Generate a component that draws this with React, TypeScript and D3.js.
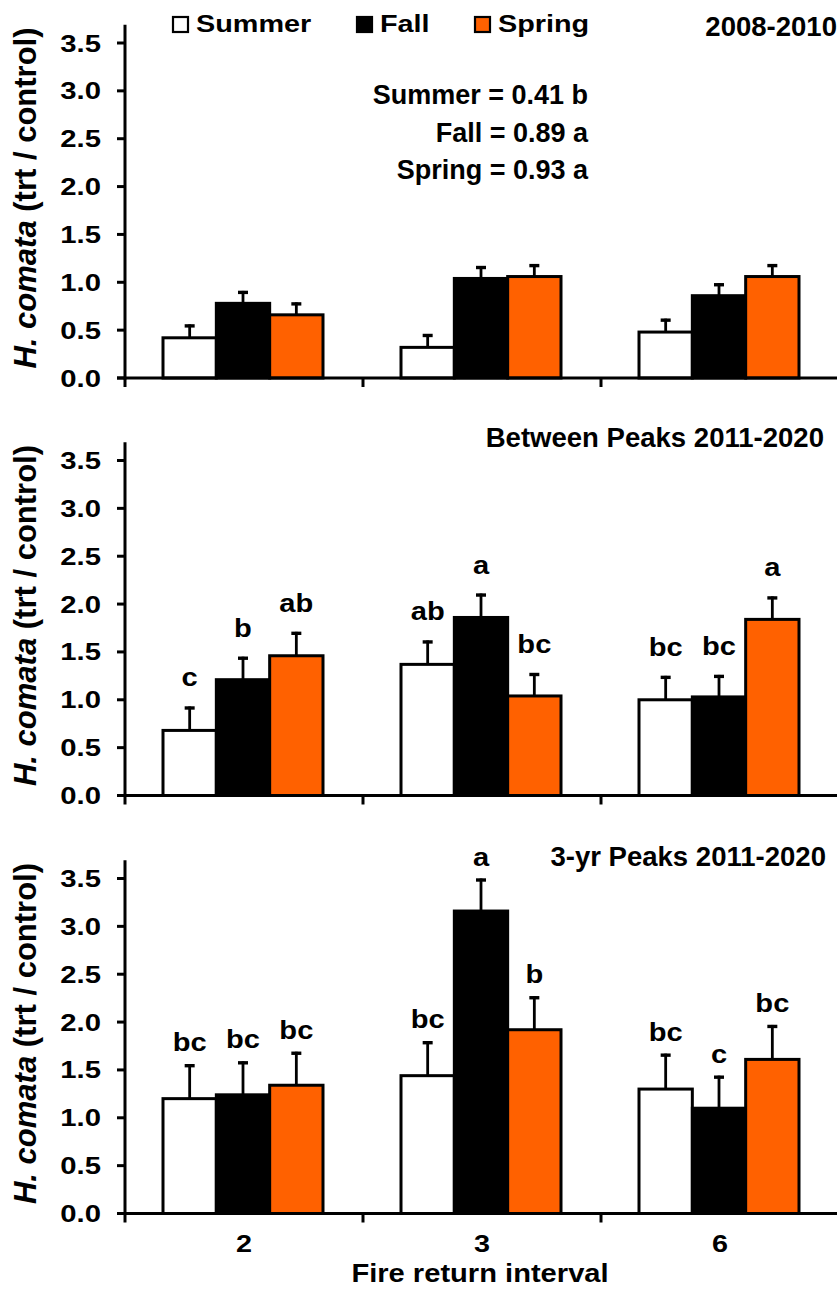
import React from "react";
import * as d3 from "d3";

const categories = ["2", "3", "6"];
const seasons = ["Summer", "Fall", "Spring"];
const seasonFill = ["#FFFFFF", "#000000", "#FF6100"];

// Panel 1: 2008-2010
const p1Summer = [0.42, 0.32, 0.48];
const p1Fall = [0.78, 1.04, 0.86];
const p1Spring = [0.66, 1.06, 1.06];
const p1SummerErr = [0.14, 0.14, 0.14];
const p1FallErr = [0.13, 0.13, 0.13];
const p1SpringErr = [0.13, 0.13, 0.13];

// Panel 2: Between Peaks 2011-2020
const p2Summer = [0.68, 1.37, 1.0];
const p2Fall = [1.21, 1.86, 1.03];
const p2Spring = [1.46, 1.04, 1.84];
const p2SummerErr = [0.25, 0.25, 0.25];
const p2FallErr = [0.24, 0.25, 0.23];
const p2SpringErr = [0.25, 0.24, 0.24];
const p2SummerLet = ["c", "ab", "bc"];
const p2FallLet = ["b", "a", "bc"];
const p2SpringLet = ["ab", "bc", "a"];

// Panel 3: 3-yr Peaks 2011-2020
const p3Summer = [1.2, 1.44, 1.3];
const p3Fall = [1.24, 3.16, 1.1];
const p3Spring = [1.34, 1.92, 1.61];
const p3SummerErr = [0.36, 0.36, 0.37];
const p3FallErr = [0.35, 0.34, 0.34];
const p3SpringErr = [0.35, 0.35, 0.36];
const p3SummerLet = ["bc", "bc", "bc"];
const p3FallLet = ["bc", "a", "c"];
const p3SpringLet = ["bc", "b", "bc"];

const yTicks = [0, 0.5, 1.0, 1.5, 2.0, 2.5, 3.0, 3.5];
const statLines = ["Summer = 0.41 b", "Fall = 0.89 a", "Spring = 0.93 a"];

const panels = [
  { title: "2008-2010", means: [p1Summer, p1Fall, p1Spring], errs: [p1SummerErr, p1FallErr, p1SpringErr], letters: null as null | string[][], titleX: 837, titleDy: -7, letterGap: 0 },
  { title: "Between Peaks 2011-2020", means: [p2Summer, p2Fall, p2Spring], errs: [p2SummerErr, p2FallErr, p2SpringErr], letters: [p2SummerLet, p2FallLet, p2SpringLet], titleX: 824, titleDy: -14, letterGap: 20 },
  { title: "3-yr Peaks 2011-2020", means: [p3Summer, p3Fall, p3Spring], errs: [p3SummerErr, p3FallErr, p3SpringErr], letters: [p3SummerLet, p3FallLet, p3SpringLet], titleX: 826, titleDy: -13, letterGap: 13 },
];

const FONT = "'Liberation Sans', Arial, sans-serif";

function T({ x, y, anchor = "start", size = 24, sx = 1, children }: any) {
  return (
    <text
      transform={`translate(${x},${y}) scale(${sx},1)`}
      textAnchor={anchor}
      fontFamily={FONT}
      fontWeight="bold"
      fontSize={size}
      fill="#000"
    >
      {children}
    </text>
  );
}

export default function App() {
  const W = 837;
  const H = 1290;
  const x0 = d3.scaleBand().domain(categories).range([125, 839]).paddingInner(0).paddingOuter(0);
  const x1 = d3.scaleBand().domain(seasons).range([38, 198]);
  const panelBase = [378, 795.5, 1213.5];

  return (
    <svg width={W} height={H} style={{ position: "absolute", left: 0, top: 0, background: "#fff" }}>
      <rect x={0} y={0} width={W} height={H} fill="#fff" />
      {panels.map((p, pi) => {
        const base = panelBase[pi];
        const y = d3.scaleLinear().domain([0, 3.5]).range([base, base - 335]);
        const axisTop = y(3.69);
        return (
          <g key={pi}>
            {seasons.map((s, si) =>
              categories.map((c, ci) => {
                const v = p.means[si][ci];
                const bx = (x0(c) as number) + (x1(s) as number);
                const bw = x1.bandwidth();
                return (
                  <rect
                    key={s + c}
                    x={bx}
                    y={y(v)}
                    width={bw}
                    height={base - y(v)}
                    fill={seasonFill[si]}
                    stroke="#000"
                    strokeWidth={3}
                  />
                );
              })
            )}
            {seasons.map((s, si) =>
              categories.map((c, ci) => {
                const v = p.means[si][ci];
                const e = p.errs[si][ci];
                const cx = (x0(c) as number) + (x1(s) as number) + x1.bandwidth() / 2;
                const top = y(v + e);
                return (
                  <g key={"e" + s + c}>
                    <line x1={cx} x2={cx} y1={y(v)} y2={top} stroke="#000" strokeWidth={2.8} />
                    <line x1={cx - 5} x2={cx + 5} y1={top + 1.5} y2={top + 1.5} stroke="#000" strokeWidth={3.4} />
                  </g>
                );
              })
            )}
            {p.letters &&
              seasons.map((s, si) =>
                categories.map((c, ci) => {
                  const v = p.means[si][ci];
                  const e = p.errs[si][ci];
                  const cx = (x0(c) as number) + (x1(s) as number) + x1.bandwidth() / 2;
                  return (
                    <T key={"l" + s + c} x={cx} y={y(v + e) - p.letterGap} anchor="middle" size={26} sx={1.12}>
                      {p.letters![si][ci]}
                    </T>
                  );
                })
              )}
            <line x1={125} x2={125} y1={axisTop} y2={base + 1.5} stroke="#000" strokeWidth={3} />
            {yTicks.map((t) => (
              <g key={"yt" + t}>
                <line x1={117} x2={125} y1={y(t)} y2={y(t)} stroke="#000" strokeWidth={3} />
                <T x={101} y={y(t) + 8.5} anchor="end" size={24} sx={1.22}>
                  {d3.format(".1f")(t)}
                </T>
              </g>
            ))}
            <line x1={117} x2={W} y1={base} y2={base} stroke="#000" strokeWidth={3} />
            {categories.map((c) => (
              <line key={"xt" + c} x1={x0(c) as number} x2={x0(c) as number} y1={base} y2={base + 9} stroke="#000" strokeWidth={3} />
            ))}
            <text
              transform={`translate(36,${base - 180}) rotate(-90)`}
              textAnchor="middle"
              fontFamily={FONT}
              fontWeight="bold"
              fontSize={31}
              fill="#000"
            >
              <tspan fontStyle="italic">H. comata</tspan>
              <tspan> (trt / control)</tspan>
            </text>
            <T x={p.titleX} y={y(3.5) + p.titleDy} anchor="end" size={27} sx={1.02}>
              {p.title}
            </T>
          </g>
        );
      })}

      {statLines.map((s, i) => (
        <T key={s} x={588} y={104 + i * 37.5} anchor="end" size={27}>
          {s}
        </T>
      ))}

      {seasons.map((s, i) => {
        const lx = [173, 357, 475][i];
        return (
          <g key={"lg" + s}>
            <rect x={lx} y={17} width={15} height={15} fill={seasonFill[i]} stroke="#000" strokeWidth={2.2} />
            <T x={lx + 23} y={31.5} size={24} sx={1.2}>
              {s}
            </T>
          </g>
        );
      })}

      {categories.map((c) => (
        <T key={"xl" + c} x={(x0(c) as number) + x0.bandwidth() / 2} y={1252} anchor="middle" size={24} sx={1.2}>
          {c}
        </T>
      ))}
      <T x={480} y={1282} anchor="middle" size={26} sx={1.12}>
        Fire return interval
      </T>
    </svg>
  );
}
